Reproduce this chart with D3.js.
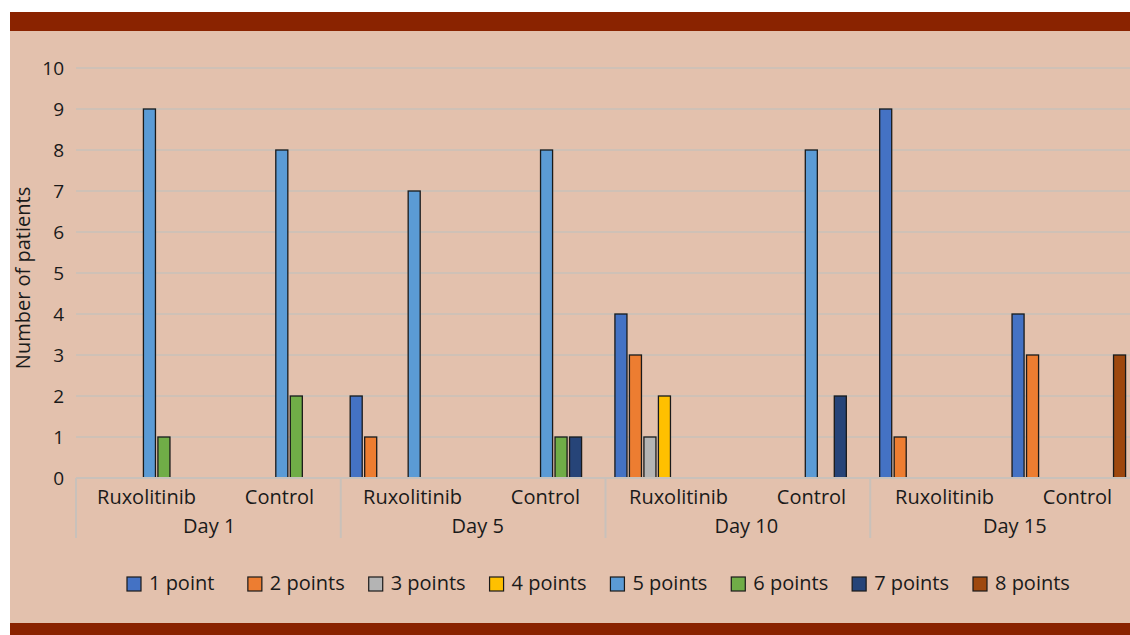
<!DOCTYPE html>
<html>
<head>
<meta charset="utf-8">
<script src="https://cdn.jsdelivr.net/npm/d3@7"></script>
<style>
  html, body { margin: 0; padding: 0; background: #ffffff; }
  svg { display: block; }
  text { font-family: "Open Sans", Lato, sans-serif; fill: #1a1a1a; }
</style>
</head>
<body>
<svg id="chart" width="1130" height="635"></svg>
<script>
// ---- data ----
const days = ["Day 1", "Day 5", "Day 10", "Day 15"];
const arms = ["Ruxolitinib", "Control"];
const seriesNames = ["1 point", "2 points", "3 points", "4 points", "5 points", "6 points", "7 points", "8 points"];
const seriesColors = ["#4472C4", "#ED7D31", "#B4B4B4", "#FFC000", "#5B9BD5", "#70AD47", "#264478", "#9E480E"];
// values per category: D1 Rux, D1 Ctrl, D5 Rux, D5 Ctrl, D10 Rux, D10 Ctrl, D15 Rux, D15 Ctrl
const point1 = [0, 0, 2, 0, 4, 0, 9, 4];
const point2 = [0, 0, 1, 0, 3, 0, 1, 3];
const point3 = [0, 0, 0, 0, 1, 0, 0, 0];
const point4 = [0, 0, 0, 0, 2, 0, 0, 0];
const point5 = [9, 8, 7, 8, 0, 8, 0, 0];
const point6 = [1, 2, 0, 1, 0, 0, 0, 0];
const point7 = [0, 0, 0, 1, 0, 2, 0, 0];
const point8 = [0, 0, 0, 0, 0, 0, 0, 3];
const yTicks = [0, 1, 2, 3, 4, 5, 6, 7, 8, 9, 10];
const yTitle = "Number of patients";

const seriesValues = [point1, point2, point3, point4, point5, point6, point7, point8];
const categories = [];
days.forEach(d => arms.forEach(a => categories.push(d + "|" + a)));

// ---- layout ----
const svg = d3.select("#chart");
const W = 1130, H = 635;
const pLeft = 76, pRight = 1135, pTop = 68, pBottom = 478;
const FONT = "'Open Sans', Lato, sans-serif";

// frame
svg.append("rect").attr("x", 10).attr("y", 12).attr("width", W - 10).attr("height", H - 12).attr("fill", "#E3C1AD");
svg.append("rect").attr("x", 10).attr("y", 12).attr("width", W - 10).attr("height", 19).attr("fill", "#8A2300");
svg.append("rect").attr("x", 10).attr("y", 623).attr("width", W - 10).attr("height", 12).attr("fill", "#8A2300");

const x0 = d3.scaleBand().domain(categories).range([pLeft, pRight]).padding(0);
const xDay = d3.scaleBand().domain(days).range([pLeft, pRight]).padding(0);
const x1 = d3.scaleBand().domain(seriesNames).range([0, x0.bandwidth()]).paddingInner(0.17).paddingOuter(0.65);
const y = d3.scaleLinear().domain([0, 10]).range([pBottom, pTop]);
// label placement scales (labels sit slightly right of band centres in the reference)
const xArmLabel = d3.scaleBand().domain(categories).range([80, 1144]);
const xDayLabel = d3.scaleBand().domain(days).range([75, 1149]);

// gridlines
svg.append("g").selectAll("line").data(yTicks.filter(t => t > 0)).join("line")
  .attr("x1", pLeft).attr("x2", pRight)
  .attr("y1", d => y(d)).attr("y2", d => y(d))
  .attr("stroke", "#C9C1BA").attr("stroke-width", 1.5);

// y axis labels
const yAxis = d3.axisLeft(y).tickValues(yTicks).tickSize(0).tickPadding(12).tickFormat(d3.format("d"));
const ya = svg.append("g").attr("transform", `translate(${pLeft},0)`).call(yAxis);
ya.select(".domain").remove();
ya.selectAll("text").style("font-family", FONT).style("font-size", "19px").attr("fill", "#1a1a1a");

// bars
const barData = [];
seriesValues.forEach((vals, si) => {
  vals.forEach((v, ci) => {
    if (v > 0) barData.push({ s: seriesNames[si], c: categories[ci], v, color: seriesColors[si] });
  });
});
svg.append("g").selectAll("rect").data(barData).join("rect")
  .attr("x", d => x0(d.c) + x1(d.s))
  .attr("y", d => y(d.v))
  .attr("width", x1.bandwidth())
  .attr("height", d => y(0) - y(d.v))
  .attr("fill", d => d.color)
  .attr("stroke", "#1a1a1a").attr("stroke-width", 1.3);

// x axis baseline
svg.append("line").attr("x1", pLeft).attr("x2", pRight).attr("y1", y(0)).attr("y2", y(0))
  .attr("stroke", "#C9C1BA").attr("stroke-width", 2);

// day separators
const sepX = days.map(d => xDay(d)).concat([pRight]);
svg.append("g").selectAll("line").data(sepX).join("line")
  .attr("x1", d => d).attr("x2", d => d).attr("y1", y(0)).attr("y2", 538)
  .attr("stroke", "#C9C1BA").attr("stroke-width", 2);

// arm labels
svg.append("g").selectAll("text").data(categories).join("text")
  .attr("x", d => xArmLabel(d) + xArmLabel.bandwidth() / 2)
  .attr("y", 504)
  .attr("text-anchor", "middle")
  .style("font-size", "20px")
  .text(d => d.split("|")[1]);

// day labels
svg.append("g").selectAll("text").data(days).join("text")
  .attr("x", d => xDayLabel(d) + xDayLabel.bandwidth() / 2)
  .attr("y", 533)
  .attr("text-anchor", "middle")
  .style("font-size", "20px")
  .text(d => d);

// y title
svg.append("text")
  .attr("transform", `translate(30,${(pTop + pBottom) / 2 + 5}) rotate(-90)`)
  .attr("text-anchor", "middle")
  .style("font-size", "20px")
  .text(yTitle);

// legend
const lx = d3.scalePoint().domain(seriesNames).range([127, 973]);
const lg = svg.append("g").selectAll("g").data(seriesNames).join("g")
  .attr("transform", d => `translate(${lx(d)},577)`);
lg.append("rect").attr("width", 14).attr("height", 14)
  .attr("fill", (d, i) => seriesColors[i]).attr("stroke", "#1a1a1a").attr("stroke-width", 1.2);
lg.append("text").attr("x", 22).attr("y", 13).style("font-size", "20px").text(d => d);
</script>
</body>
</html>
